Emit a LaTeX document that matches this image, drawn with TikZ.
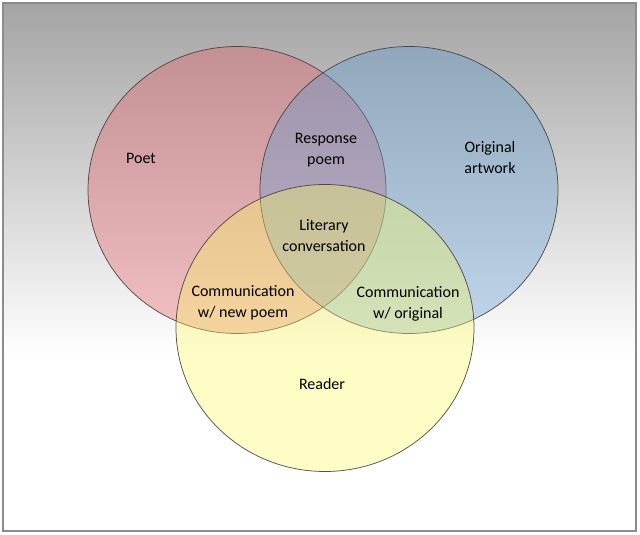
\documentclass[tikz,border=0pt]{standalone}
\usepackage{fontspec}
\setmainfont{Carlito}
\usetikzlibrary{shapes.geometric}
\definecolor{bggray}{RGB}{164,164,164}
\definecolor{framegray}{RGB}{140,140,140}
\definecolor{poetred}{RGB}{231,89,100}
\definecolor{artblue}{RGB}{91,154,211}
\definecolor{readyellow}{RGB}{250,250,95}
\definecolor{rimgray}{RGB}{70,60,60}
\tikzset{
  vennset/.style={ellipse, inner sep=0pt, minimum width=223.5pt, minimum height=215.25pt,
    draw=rimgray, line width=0.55pt, fill opacity=0.36, draw opacity=0.9},
  lbl/.style={align=center, font=\fontsize{12pt}{15.75pt}\selectfont, text=black, inner sep=0pt}
}
\begin{document}
\begin{tikzpicture}[x=0.75pt,y=-0.75pt]
\useasboundingbox (0,0) rectangle (640,535);
\fill[white] (0,0) rectangle (640,535);
\shade[top color=bggray, bottom color=white] (3,3) rectangle (636,356);
\draw[framegray, line width=1pt] (3,3) rectangle (636,531);
\node[vennset, fill=poetred] (poet) at (237,190) {};
\node[vennset, fill=artblue] (art) at (409,190) {};
\node[vennset, fill=readyellow] (reader) at (325,328) {};
\node[lbl] (tpoet) at (141,158) {Poet};
\node[lbl] (tresp) at (326,150) {Response\\poem};
\node[lbl] (tart) at (490,157.5) {Original\\artwork};
\node[lbl] (tlit) at (324,235.5) {Literary\\conversation};
\node[lbl] (tnew) at (243,302.5) {Communication\\w/ new poem};
\node[lbl] (torig) at (408,303.5) {Communication\\w/ original};
\node[lbl] (tread) at (322,384) {Reader};
\end{tikzpicture}
\end{document}
